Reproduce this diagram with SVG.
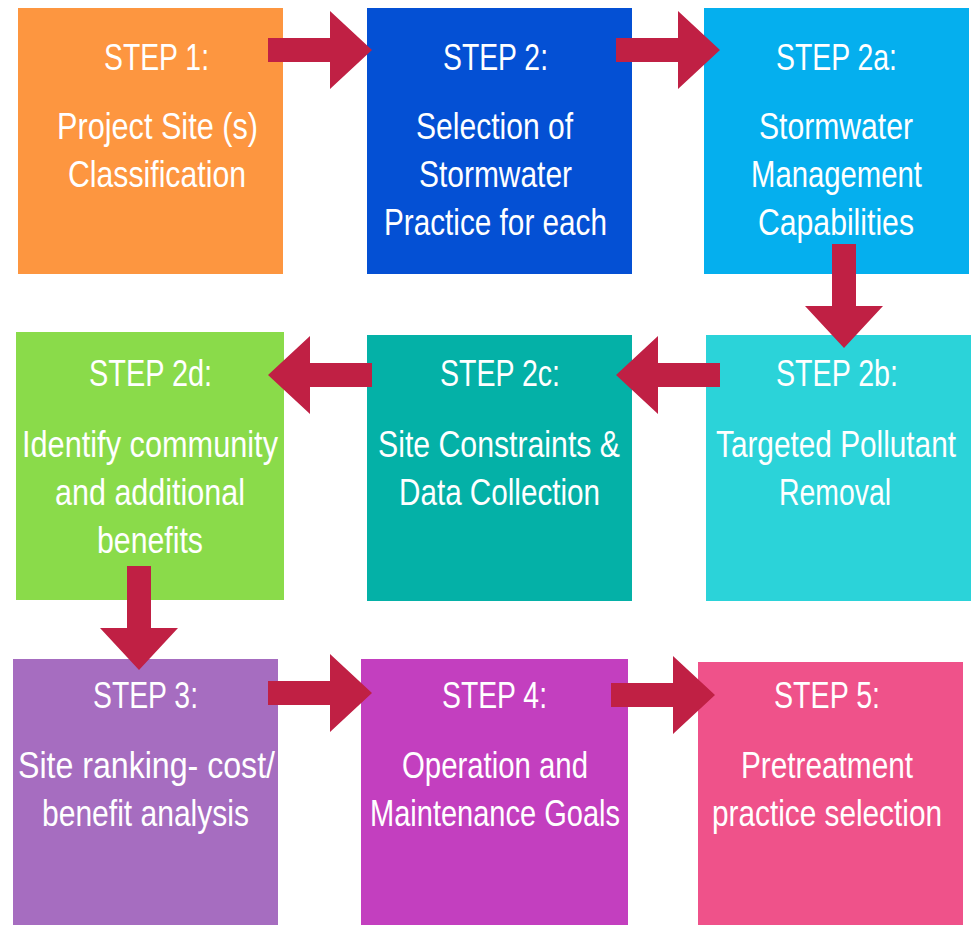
<svg xmlns="http://www.w3.org/2000/svg" width="971" height="925" viewBox="0 0 971 925">
  <style>
    .lbl { font-family: "Liberation Sans", Arial, sans-serif; font-size: 37px; fill: #ffffff; text-anchor: middle; }
    .arrow { fill: #c02044; }
  </style>
  <defs>
    <!-- right-pointing block arrow, origin at shaft start, centre line y=0 -->
    <polygon id="arr" points="0,-12 62,-12 62,-39 104,0 62,39 62,12 0,12"/>
  </defs>
  <rect width="971" height="925" fill="#ffffff"/>

  <!-- Row 1 -->
  <g id="step1">
    <rect x="18" y="8" width="265" height="266" fill="#fd9640"/>
    <text class="lbl" x="156.5" y="70" textLength="105" lengthAdjust="spacingAndGlyphs">STEP 1:</text>
    <text class="lbl" x="157.5" y="139" textLength="201" lengthAdjust="spacingAndGlyphs">Project Site (s)</text>
    <text class="lbl" x="157" y="187" textLength="178" lengthAdjust="spacingAndGlyphs">Classification</text>
  </g>
  <g id="step2">
    <rect x="367" y="8" width="265" height="266" fill="#0450d4"/>
    <text class="lbl" x="495.5" y="70" textLength="105" lengthAdjust="spacingAndGlyphs">STEP 2:</text>
    <text class="lbl" x="494.5" y="139" textLength="157" lengthAdjust="spacingAndGlyphs">Selection of</text>
    <text class="lbl" x="495.5" y="187" textLength="153" lengthAdjust="spacingAndGlyphs">Stormwater</text>
    <text class="lbl" x="495.5" y="235" textLength="223" lengthAdjust="spacingAndGlyphs">Practice for each</text>
  </g>
  <g id="step2a">
    <rect x="704" y="8" width="265" height="266" fill="#05afee"/>
    <text class="lbl" x="836.5" y="70" textLength="121" lengthAdjust="spacingAndGlyphs">STEP 2a:</text>
    <text class="lbl" x="836" y="139" textLength="154" lengthAdjust="spacingAndGlyphs">Stormwater</text>
    <text class="lbl" x="836.5" y="187" textLength="171" lengthAdjust="spacingAndGlyphs">Management</text>
    <text class="lbl" x="836" y="235" textLength="156" lengthAdjust="spacingAndGlyphs">Capabilities</text>
  </g>

  <!-- Row 2 -->
  <g id="step2d">
    <rect x="16" y="332" width="268" height="268" fill="#8adb4a"/>
    <text class="lbl" x="150.5" y="386" textLength="123" lengthAdjust="spacingAndGlyphs">STEP 2d:</text>
    <text class="lbl" x="150" y="457" textLength="256" lengthAdjust="spacingAndGlyphs">Identify community</text>
    <text class="lbl" x="150" y="505" textLength="190" lengthAdjust="spacingAndGlyphs">and additional</text>
    <text class="lbl" x="150" y="553" textLength="106" lengthAdjust="spacingAndGlyphs">benefits</text>
  </g>
  <g id="step2c">
    <rect x="367" y="335" width="265" height="266" fill="#04b1a7"/>
    <text class="lbl" x="500" y="386" textLength="120" lengthAdjust="spacingAndGlyphs">STEP 2c:</text>
    <text class="lbl" x="499" y="457" textLength="242" lengthAdjust="spacingAndGlyphs">Site Constraints &amp;</text>
    <text class="lbl" x="499.5" y="505" textLength="201" lengthAdjust="spacingAndGlyphs">Data Collection</text>
  </g>
  <g id="step2b">
    <rect x="706" y="335" width="265" height="266" fill="#2bd3d9"/>
    <text class="lbl" x="837" y="386" textLength="122" lengthAdjust="spacingAndGlyphs">STEP 2b:</text>
    <text class="lbl" x="836" y="457" textLength="240" lengthAdjust="spacingAndGlyphs">Targeted Pollutant</text>
    <text class="lbl" x="835" y="505" textLength="112" lengthAdjust="spacingAndGlyphs">Removal</text>
  </g>

  <!-- Row 3 -->
  <g id="step3">
    <rect x="13" y="659" width="265" height="266" fill="#a66dc0"/>
    <text class="lbl" x="145.5" y="708" textLength="105" lengthAdjust="spacingAndGlyphs">STEP 3:</text>
    <text class="lbl" x="146.5" y="778" textLength="257" lengthAdjust="spacingAndGlyphs">Site ranking- cost/</text>
    <text class="lbl" x="145.5" y="826" textLength="207" lengthAdjust="spacingAndGlyphs">benefit analysis</text>
  </g>
  <g id="step4">
    <rect x="361" y="659" width="267" height="266" fill="#c33fbf"/>
    <text class="lbl" x="494.5" y="708" textLength="105" lengthAdjust="spacingAndGlyphs">STEP 4:</text>
    <text class="lbl" x="495" y="778" textLength="186" lengthAdjust="spacingAndGlyphs">Operation and</text>
    <text class="lbl" x="495" y="826" textLength="250" lengthAdjust="spacingAndGlyphs">Maintenance Goals</text>
  </g>
  <g id="step5">
    <rect x="698" y="662" width="265" height="263" fill="#ef528a"/>
    <text class="lbl" x="827" y="708" textLength="106" lengthAdjust="spacingAndGlyphs">STEP 5:</text>
    <text class="lbl" x="827" y="778" textLength="172" lengthAdjust="spacingAndGlyphs">Pretreatment</text>
    <text class="lbl" x="827" y="826" textLength="230" lengthAdjust="spacingAndGlyphs">practice selection</text>
  </g>

  <!-- Connectors -->
  <g id="connectors" class="arrow">
    <use href="#arr" transform="translate(268,50)"/>
    <use href="#arr" transform="translate(616,50)"/>
    <use href="#arr" transform="translate(844,244) rotate(90)"/>
    <use href="#arr" transform="translate(720,375) rotate(180)"/>
    <use href="#arr" transform="translate(372,375) rotate(180)"/>
    <use href="#arr" transform="translate(139,566) rotate(90)"/>
    <use href="#arr" transform="translate(268,693)"/>
    <use href="#arr" transform="translate(611,695)"/>
  </g>
</svg>
